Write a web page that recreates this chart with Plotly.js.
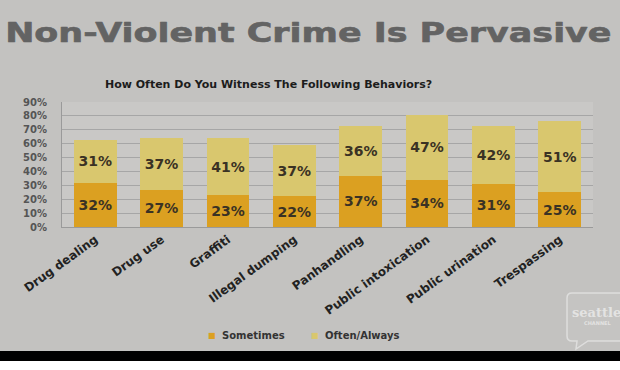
<!DOCTYPE html>
<html>
<head>
<meta charset="utf-8">
<script src="https://cdn.plot.ly/plotly-3.0.1.min.js"></script>
<style>
html,body{margin:0;padding:0;background:#c3c2c0;}
#chart{width:620px;height:370px;}
</style>
</head>
<body>
<div id="chart"></div>
<script>
// ---- data ----
const categories = ["Drug dealing","Drug use","Graffiti","Illegal dumping","Panhandling","Public intoxication","Public urination","Trespassing"];
const seriesNames = ["Sometimes","Often/Always"];
const sometimes = [32,27,23,22,37,34,31,25];
const oftenAlways = [31,37,41,37,36,47,42,51];
const yTickVals = [0,10,20,30,40,50,60,70,80,90];
const yTickText = ["0%","10%","20%","30%","40%","50%","60%","70%","80%","90%"];
const titleText = "Non-Violent Crime Is Pervasive";
const subtitleText = "How Often Do You Witness The Following Behaviors?";

// ---- style ----
const colors = ["#dba021","#d9c76e"];
const W=620,H=370, L=62, R=27, T=102, B=143;
const PW=W-L-R, PH=H-T-B;
const px=x=>(x-L)/PW;
const py=y=>(T+PH-y)/PH;
const bold = "DejaVu Sans";

const traces = [sometimes, oftenAlways].map((vals,i)=>({
  type:"bar", x:categories, y:vals, name:seriesNames[i],
  marker:{color:colors[i], line:{width:0}},
  text: vals.map(v=>v+"%"), textposition:"inside", insidetextanchor:"middle",
  textangle:0, constraintext:"none",
  textfont:{family:bold, size:14, color:"#3a3224", weight:"bold"},
  hoverinfo:"skip", showlegend:false
}));

const annotations = [
  {xref:"paper",yref:"paper",x:px(308),y:py(32.5),xanchor:"center",yanchor:"middle",showarrow:false,
   text:titleText, font:{family:bold,size:26,color:"#636363",weight:"bold"}},
  {xref:"paper",yref:"paper",x:px(268),y:py(84),xanchor:"center",yanchor:"middle",showarrow:false,
   text:subtitleText, font:{family:bold,size:11,color:"#1c1c1c",weight:"bold"}},
];
// custom legend
const legendX=[212,315];
seriesNames.forEach((n,i)=>{
  annotations.push({xref:"paper",yref:"paper",x:px(legendX[i]),y:py(335),xanchor:"center",yanchor:"middle",showarrow:false,
    text:"■", font:{family:bold,size:8,color:colors[i]}});
  annotations.push({xref:"paper",yref:"paper",x:px(legendX[i]+8),y:py(335),xanchor:"left",yanchor:"middle",showarrow:false,
    text:n, font:{family:bold,size:10,color:"#333",weight:"bold"}});
});
// logo text
annotations.push({xref:"paper",yref:"paper",x:px(596),y:py(312),xanchor:"center",yanchor:"middle",showarrow:false,
  text:"seattle", font:{family:"DejaVu Serif",size:13,color:"rgba(255,255,255,0.55)",weight:"bold"}});
annotations.push({xref:"paper",yref:"paper",x:px(598),y:py(323),xanchor:"center",yanchor:"middle",showarrow:false,
  text:"CHANNEL", font:{family:bold,size:5,color:"rgba(255,255,255,0.55)",weight:"bold"}});

const X=v=>px(v), Y=v=>py(v);
const bubble = `M ${X(572)},${Y(293)} L ${X(625)},${Y(293)} L ${X(625)},${Y(341)} L ${X(588)},${Y(341)} L ${X(576)},${Y(349)} L ${X(577)},${Y(341)} L ${X(572)},${Y(341)} Q ${X(567)},${Y(341)} ${X(567)},${Y(336)} L ${X(567)},${Y(298)} Q ${X(567)},${Y(293)} ${X(572)},${Y(293)} Z`;

const shapes = [
  {type:"rect",xref:"paper",yref:"paper",x0:px(0),x1:px(620),y0:py(361),y1:py(351),fillcolor:"#000",line:{width:0},layer:"above"},
  {type:"rect",xref:"paper",yref:"paper",x0:px(0),x1:px(620),y0:py(371),y1:py(361),fillcolor:"#ffffff",line:{width:0},layer:"above"},
  {type:"path",xref:"paper",yref:"paper",path:bubble,line:{color:"rgba(255,255,255,0.45)",width:1.5},fillcolor:"rgba(255,255,255,0.04)",layer:"above"}
];

const layout = {
  width:W, height:H, margin:{l:L,r:R,t:T,b:B,pad:0},
  paper_bgcolor:"#c3c2c0", plot_bgcolor:"#c9c8c6",
  barmode:"stack", bargap:0.355,
  showlegend:false,
  xaxis:{tickangle:-36, tickfont:{family:bold,size:12,color:"#222",weight:"bold"},
    showgrid:false, showline:true, linecolor:"#9a9a9a", linewidth:1, ticks:"", fixedrange:true},
  yaxis:{range:[0,90], tickvals:yTickVals, ticktext:yTickText, showgrid:true, gridcolor:"#a6a6a6", gridwidth:1,
    tickfont:{family:bold,size:10,color:"#555",weight:"bold"}, showline:true, linecolor:"#9a9a9a",
    zeroline:false, ticks:"", ticklabelstandoff:12, fixedrange:true},
  annotations, shapes
};

Plotly.newPlot("chart", traces, layout, {displayModeBar:false, staticPlot:true}).then(()=>{
  const g = document.querySelector('#chart .annotation[data-index="0"]');
  if(g){
    const bb = g.getBBox();
    const s = 611/bb.width;
    const cx = bb.x + bb.width/2;
    const prev = g.getAttribute("transform")||"";
    g.setAttribute("transform", `translate(${308.5 - s*cx},0) scale(${s},1) ${prev}`);
    const t = g.querySelector("text");
    if(t){ t.style.stroke="#636363"; t.style.strokeWidth="0.6px"; t.style.strokeLinejoin="round"; }
  }
});
</script>
</body>
</html>
